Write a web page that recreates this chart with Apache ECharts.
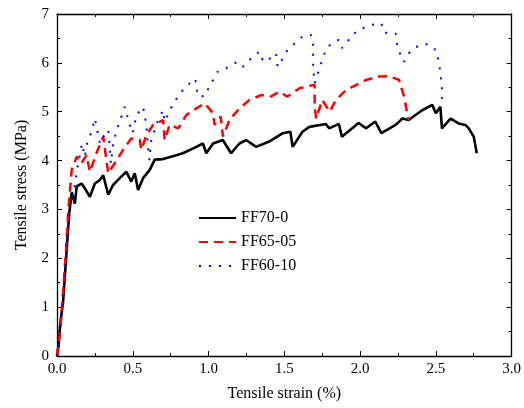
<!DOCTYPE html>
<html>
<head>
<meta charset="utf-8">
<script src="https://cdn.jsdelivr.net/npm/echarts@6/dist/echarts.min.js"></script>
<style>
    html, body { margin: 0; padding: 0; background: #fff; }
    #chart { width: 524px; height: 408px; }
</style>
</head>
<body>
<div id="chart"></div>
<script>
// strain (%) , stress (MPa)
var ff70_0 = [[0,0],[0.01,0.2],[0.02,0.6],[0.025,0.75],[0.04,1.1],[0.06,2.0],[0.08,2.9],[0.097,3.35],[0.118,3.12],[0.13,3.47],[0.162,3.53],[0.184,3.43],[0.217,3.26],[0.25,3.53],[0.283,3.60],[0.305,3.70],[0.338,3.30],[0.37,3.50],[0.414,3.64],[0.458,3.77],[0.49,3.57],[0.513,3.74],[0.535,3.40],[0.568,3.64],[0.612,3.81],[0.645,4.02],[0.70,4.03],[0.787,4.11],[0.83,4.15],[0.92,4.28],[0.963,4.35],[0.985,4.15],[1.03,4.35],[1.094,4.42],[1.149,4.15],[1.204,4.35],[1.248,4.42],[1.314,4.28],[1.40,4.39],[1.49,4.56],[1.54,4.59],[1.555,4.28],[1.62,4.59],[1.665,4.69],[1.774,4.75],[1.796,4.66],[1.86,4.75],[1.88,4.49],[1.99,4.77],[2.04,4.66],[2.10,4.80],[2.14,4.56],[2.235,4.73],[2.28,4.86],[2.32,4.83],[2.41,5.03],[2.476,5.14],[2.50,4.97],[2.53,5.10],[2.54,4.66],[2.597,4.86],[2.65,4.76],[2.695,4.73],[2.717,4.66],[2.75,4.49],[2.77,4.15]];

var ff65_05 = [[0,0],[0.02,0.5],[0.04,1.3],[0.06,2.2],[0.075,3.0],[0.086,3.4],[0.097,3.81],[0.13,4.08],[0.16,3.94],[0.195,4.11],[0.217,3.77],[0.26,4.15],[0.305,4.49],[0.338,3.74],[0.38,3.94],[0.436,4.22],[0.49,4.45],[0.546,4.42],[0.557,4.22],[0.59,4.52],[0.634,4.73],[0.70,4.83],[0.71,4.42],[0.743,4.73],[0.80,4.66],[0.853,4.93],[0.92,5.07],[0.974,5.17],[1.03,4.97],[1.04,4.73],[1.08,4.90],[1.095,4.49],[1.138,4.83],[1.204,5.07],[1.27,5.24],[1.347,5.34],[1.41,5.31],[1.467,5.41],[1.52,5.31],[1.6,5.48],[1.70,5.55],[1.70,5.10],[1.71,4.86],[1.75,5.24],[1.80,5.0],[1.84,5.24],[1.906,5.44],[2.04,5.65],[2.125,5.72],[2.19,5.73],[2.257,5.65],[2.29,5.31],[2.32,4.83]];

var ff60_10 = [[0,0],[0.02,0.5],[0.04,1.2],[0.06,2.1],[0.08,3.0],[0.1,3.3],[0.118,3.5],[0.14,3.95],[0.151,4.11],[0.165,4.35],[0.184,4.08],[0.195,4.32],[0.228,4.59],[0.25,4.86],[0.26,4.90],[0.283,4.35],[0.305,4.49],[0.338,4.63],[0.35,4.22],[0.355,3.94],[0.37,4.32],[0.39,4.59],[0.414,4.80],[0.447,5.10],[0.46,5.14],[0.48,4.73],[0.50,4.56],[0.524,4.93],[0.568,5.10],[0.59,4.73],[0.60,4.28],[0.61,4.01],[0.62,4.39],[0.667,4.83],[0.70,5.03],[0.71,4.80],[0.743,5.0],[0.765,5.17],[0.83,5.44],[0.875,5.58],[0.897,5.68],[0.92,5.61],[0.925,5.34],[0.974,5.31],[1.0,5.48],[1.06,5.82],[1.116,5.89],[1.19,6.02],[1.226,5.92],[1.28,6.09],[1.335,6.23],[1.357,6.06],[1.39,6.02],[1.42,6.16],[1.445,6.19],[1.456,5.92],[1.49,6.09],[1.52,6.26],[1.58,6.43],[1.62,6.54],[1.676,6.57],[1.69,6.43],[1.69,6.19],[1.69,5.92],[1.70,5.58],[1.725,5.82],[1.75,6.06],[1.774,6.26],[1.807,6.39],[1.86,6.47],[1.88,6.30],[1.91,6.41],[1.95,6.57],[1.99,6.67],[2.06,6.77],[2.14,6.81],[2.16,6.62],[2.235,6.60],[2.245,6.36],[2.27,6.13],[2.29,6.02],[2.32,6.19],[2.355,6.30],[2.41,6.38],[2.45,6.38],[2.50,6.26],[2.52,6.02],[2.53,5.79],[2.54,5.51],[2.54,5.26]];

var seriesNames = ['FF70-0', 'FF65-05', 'FF60-10'];

var font = 'Liberation Serif';
var myChart = echarts.init(document.getElementById('chart'));

// shared style for the 4 sides of the box
function boxAxis(pos, isX, showLabel) {
    return {
        type: 'value',
        position: pos,
        min: 0,
        max: isX ? 3 : 7,
        interval: isX ? 0.5 : 1,
        axisLine: { show: true, onZero: false, lineStyle: { color: '#000', width: 1.3 } },
        axisTick: { show: true, inside: true, length: 5, lineStyle: { color: '#000', width: 1 } },
        minorTick: { show: true, splitNumber: 2, length: 3, lineStyle: { color: '#000', width: 1 } },
        splitLine: { show: false },
        axisLabel: {
            show: showLabel,
            color: '#000',
            fontFamily: font,
            fontSize: 15,
            margin: isX ? 6 : 8,
            formatter: function (v) { return isX ? v.toFixed(1) : String(v); }
        }
    };
}

var xMain = boxAxis('bottom', true, true);
xMain.name = 'Tensile strain (%)';
xMain.nameLocation = 'middle';
xMain.nameGap = 30;
xMain.nameTextStyle = { color: '#000', fontFamily: font, fontSize: 16 };

var yMain = boxAxis('left', false, true);
yMain.name = 'Tensile stress (MPa)';
yMain.nameLocation = 'middle';
yMain.nameGap = 27;
yMain.nameTextStyle = { color: '#000', fontFamily: font, fontSize: 16 };

var option = {
    animation: false,
    backgroundColor: '#fff',
    grid: { left: 57, right: 11, top: 14, bottom: 52 },
    legend: {
        orient: 'vertical',
        left: 198,
        top: 210,
        padding: 0,
        itemWidth: 37,
        itemHeight: 10,
        itemGap: 8,
        itemStyle: { opacity: 0 },
        textStyle: { color: '#000', fontFamily: font, fontSize: 16 },
        data: seriesNames
    },
    xAxis: [xMain, boxAxis('top', true, false)],
    yAxis: [yMain, boxAxis('right', false, false)],
    series: [{
        name: seriesNames[0],
        type: 'line',
        data: ff70_0,
        symbol: 'none',
        lineStyle: { color: '#000', width: 2.6 },
        itemStyle: { color: '#000' }
    }, {
        name: seriesNames[1],
        type: 'line',
        data: ff65_05,
        symbol: 'none',
        lineStyle: { color: '#ff0000', width: 2.5, type: [9, 6] },
        itemStyle: { color: '#ff0000' }
    }, {
        name: seriesNames[2],
        type: 'line',
        data: ff60_10,
        symbol: 'none',
        lineStyle: { color: '#0000ff', width: 2, type: [2, 8] },
        itemStyle: { color: '#0000ff' }
    }]
};

myChart.setOption(option);
</script>
</body>
</html>
